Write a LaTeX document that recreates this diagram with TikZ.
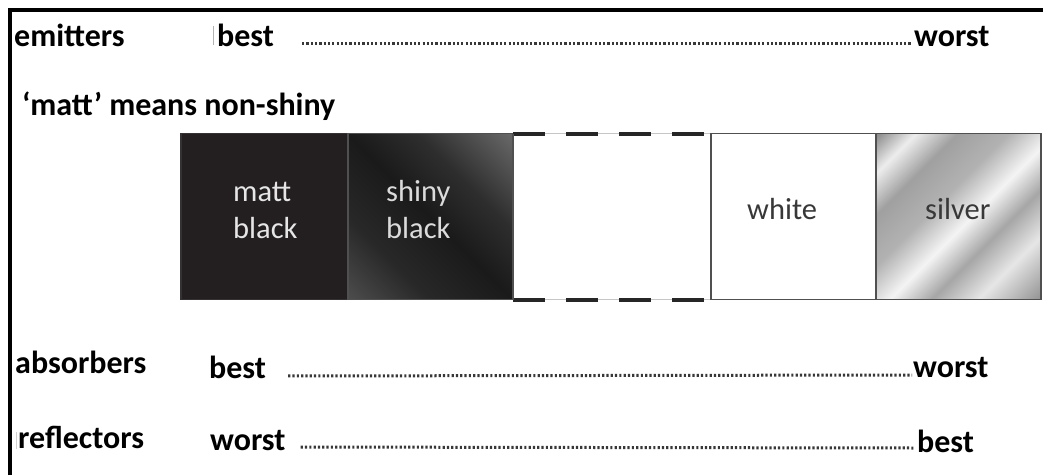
\documentclass[tikz,border=0pt]{standalone}
\usepackage{fontspec}
\setmainfont{Carlito}
\definecolor{mattblk}{HTML}{231F20}
\definecolor{edge}{HTML}{505050}
\definecolor{lighttxt}{HTML}{E6E6E6}
\definecolor{darktxt}{HTML}{383838}
\definecolor{dotc}{HTML}{383838}
\definecolor{sb1}{HTML}{4C4C4C}
\definecolor{sb2}{HTML}{282828}
\definecolor{sb3}{HTML}{1A1A1A}
\definecolor{sb4}{HTML}{2E2E2E}
\definecolor{sb5}{HTML}{686868}
\definecolor{sv1}{HTML}{8E8E8E}
\definecolor{sv2}{HTML}{EDEDED}
\definecolor{sv3}{HTML}{A0A0A0}
\definecolor{sv4}{HTML}{B2B2B2}
\definecolor{sv5}{HTML}{F4F4F4}
\definecolor{sv6}{HTML}{A6A6A6}
\definecolor{sv7}{HTML}{E6E6E6}
\definecolor{sv8}{HTML}{959595}
\pgfdeclarehorizontalshading{shinyblk}{100bp}{color(0bp)=(sb1); color(15bp)=(sb1); color(32bp)=(sb2); color(50bp)=(sb3); color(65bp)=(sb4); color(85bp)=(sb5); color(100bp)=(sb5)}
\pgfdeclarehorizontalshading{silvershade}{100bp}{color(0bp)=(sv1); color(15bp)=(sv1); color(23bp)=(sv2); color(32bp)=(sv3); color(43bp)=(sv4); color(53bp)=(sv5); color(62bp)=(sv6); color(72bp)=(sv7); color(85bp)=(sv8); color(100bp)=(sv8)}
\begin{document}
\begin{tikzpicture}[x=1pt,y=-1pt,
  lab/.style={font=\bfseries\fontsize{32}{36}\selectfont, inner sep=0pt, anchor=base west, text=black},
  boxlab/.style={font=\fontsize{30.5}{36}\selectfont, inner sep=0pt, anchor=base west},
  swatch/.style={minimum width=165pt, minimum height=166pt, inner sep=0pt, outer sep=0pt, line width=1.6pt, draw=edge},
  dotline/.style={draw=dotc, line width=3pt, dash pattern=on 2.2pt off 2.1pt},
  thinguide/.style={draw=gray!45, line width=0.8pt},
  dashedge/.style={draw=black!85, line width=4pt, dash pattern=on 32pt off 21pt},
  cursor/.style={draw=gray!60, line width=1pt}]
\useasboundingbox (0,0) rectangle (1043,475);
% frame
\coordinate (fbl) at (10,475);
\coordinate (ftl) at (10,10);
\coordinate (ftr) at (1043,10);
\draw[line width=4pt] (fbl) -- (ftl) -- (ftr);

% top labels
\node[lab] (em) at (14,46) {emitters};
\node[lab] (eb) at (217,46) {best};
\node[lab] (ew) at (914,46) {worst};
\draw[dotline, shorten <=28pt, shorten >=2pt] ([yshift=3pt]eb.base east) -- ([yshift=3pt]ew.base west);
\coordinate (c1a) at (213,26);
\coordinate (c1b) at (213,45);
\draw[cursor] (c1a) -- (c1b);

\node[lab] (mm) at (22,115) {‘matt’ means non-shiny};

% swatches
\node[swatch, fill=mattblk, draw=mattblk!80!gray, minimum width=167pt] (b1) at (264.5,216.5) {};
\node[swatch, shade, shading=shinyblk, shading angle=45, draw=edge] (b2) at (430.5,216.5) {};
\node[swatch, fill=white, draw=none, minimum width=197pt] (b3) at (611.5,216.5) {};
\node[swatch, fill=white] (b4) at (793.5,216.5) {};
\node[swatch, shade, shading=silvershade, shading angle=-45] (b5) at (958.5,216.5) {};

\draw[thinguide] (b3.north west) -- (b3.north east);
\draw[thinguide] (b3.south west) -- (b3.south east);
\draw[dashedge] (b3.north west) -- (b3.north east);
\draw[dashedge] (b3.south west) -- (b3.south east);
\draw[line width=1.6pt, draw=edge] (b2.north east) -- (b2.south east);
\draw[line width=1.6pt, draw=edge] (b4.north west) -- (b4.south west);

\node[boxlab, text=lighttxt] (t1a) at (233,201) {matt};
\node[boxlab, text=lighttxt] (t1b) at (233,238) {black};
\node[boxlab, text=lighttxt!95!black] (t2a) at (386,201) {shiny};
\node[boxlab, text=lighttxt!95!black] (t2b) at (386,238) {black};
\node[boxlab, text=darktxt] (t4) at (747,219) {white};
\node[boxlab, text=darktxt] (t5) at (925,219) {silver};

% absorbers
\node[lab] (ab) at (15,373) {absorbers};
\node[lab] (abb) at (209,378) {best};
\node[lab] (abw) at (913,377) {worst};
\draw[dotline, shorten <=22pt, shorten >=1pt] ([yshift=2pt]abb.base east) -- ([yshift=2pt]abw.base west);

% reflectors
\coordinate (c2a) at (16,432);
\coordinate (c2b) at (16,449);
\draw[cursor, draw=gray!35] (c2a) -- (c2b);
\node[lab] (rf) at (18,448) {reflectors};
\node[lab] (rfw) at (210,450) {worst};
\node[lab] (rfb) at (917,452) {best};
\draw[dotline, shorten <=15pt, shorten >=2pt] ([yshift=3pt]rfw.base east) -- ([yshift=4pt]rfb.base west);
\end{tikzpicture}
\end{document}
